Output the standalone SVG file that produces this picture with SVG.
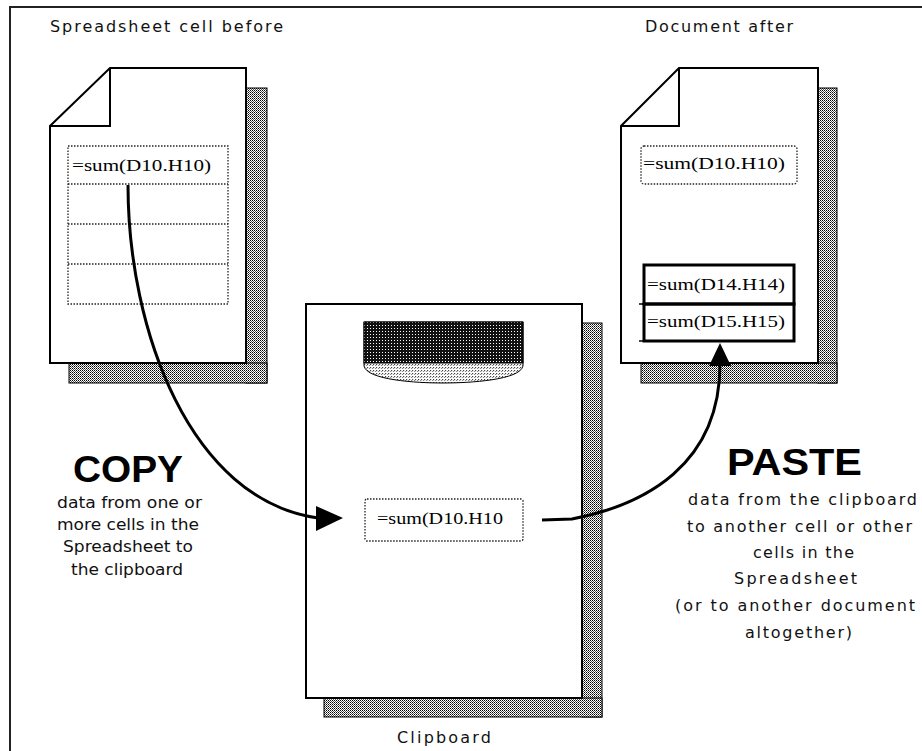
<svg xmlns="http://www.w3.org/2000/svg" width="922" height="751" viewBox="0 0 922 751">
<defs>
<pattern id="dither" width="2" height="2" patternUnits="userSpaceOnUse">
<rect width="2" height="2" fill="#fff"/>
<rect width="1" height="1" fill="#000"/>
<rect x="1" y="1" width="1" height="1" fill="#555"/>
</pattern>
<pattern id="darkdots" width="3" height="3" patternUnits="userSpaceOnUse">
<rect width="3" height="3" fill="#111"/>
<rect x="1" y="1" width="1" height="1" fill="#fff"/>
</pattern>
<pattern id="lightdots" width="3" height="3" patternUnits="userSpaceOnUse">
<rect width="3" height="3" fill="#fff"/>
<rect x="1" y="1" width="1.2" height="1.2" fill="#444"/>
<rect x="0" y="2" width="1" height="1" fill="#888"/>
</pattern>
</defs>
<style>
.page{fill:#fff;stroke:#000;stroke-width:2}
.line{fill:none;stroke:#000;stroke-width:2}
.shadow{fill:url(#dither);stroke:#000;stroke-width:1}
.dot{fill:none;stroke:#222;stroke-width:1.3;stroke-dasharray:1.5 1.5}
.bold{fill:none;stroke:#000;stroke-width:3}
.cell{font-family:"Liberation Serif","Times New Roman",serif;font-size:16px;fill:#000}
.lbl{font-family:"DejaVu Sans","Noto Sans",sans-serif;font-size:15px;fill:#111}
.lbl2{font-family:"DejaVu Sans","Noto Sans",sans-serif;font-size:16px;fill:#111}
.big{font-family:"Liberation Sans",Arial,sans-serif;font-size:37px;font-weight:bold;fill:#000}
.conn{fill:none;stroke:#000;stroke-width:3}
</style>
<rect width="922" height="751" fill="#fff"/>
<path d="M10,751 V7 H922" fill="none" stroke="#222" stroke-width="2"/>

<g id="label-before"><text class="lbl2" x="50" y="32" textLength="233" lengthAdjust="spacing">Spreadsheet cell before</text></g>
<g id="label-after"><text class="lbl2" x="645" y="32" textLength="148" lengthAdjust="spacing">Document after</text></g>

<g id="spreadsheet-doc">
<rect class="shadow" x="246" y="88" width="21" height="295"/>
<rect class="shadow" x="69" y="363" width="198" height="20"/>
<path class="page" d="M110,68 H246 V363 H50 V126 Z"/>
<path class="line" d="M50,126 H110 V68"/>
<rect class="dot" x="68" y="146" width="160" height="158"/>
<line class="dot" x1="68" y1="184" x2="228" y2="184"/>
<line class="dot" x1="68" y1="224" x2="228" y2="224"/>
<line class="dot" x1="68" y1="264" x2="228" y2="264"/>
<text class="cell" x="72" y="171" textLength="139" lengthAdjust="spacingAndGlyphs">=sum(D10.H10)</text>
</g>

<g id="clipboard">
<rect class="shadow" x="582" y="323" width="20" height="394"/>
<rect class="shadow" x="324" y="698" width="278" height="19"/>
<rect class="page" x="306" y="304" width="276" height="394" stroke-width="1.5"/>
<path d="M364,322 H523 V366 C520,380 470,383 443,383 C416,383 367,380 364,366 Z" fill="url(#lightdots)" stroke="#000" stroke-width="1"/>
<rect x="364" y="322" width="159" height="41" fill="url(#darkdots)" stroke="#000" stroke-width="1"/>
<rect class="dot" x="365" y="499" width="158" height="42" rx="2"/>
<text class="cell" x="377" y="524" textLength="126" lengthAdjust="spacingAndGlyphs">=sum(D10.H10</text>
<text class="lbl2" x="397" y="743" textLength="94" lengthAdjust="spacing">Clipboard</text>
</g>

<g id="document-after">
<rect class="shadow" x="818" y="88" width="19" height="295"/>
<rect class="shadow" x="641" y="363" width="196" height="20"/>
<path class="page" d="M679,68 H818 V363 H621 V126 Z"/>
<path class="line" d="M621,126 H679 V68"/>
<rect class="dot" x="641" y="146" width="156" height="38" rx="3"/>
<text class="cell" x="643" y="169" textLength="142" lengthAdjust="spacingAndGlyphs">=sum(D10.H10)</text>
<rect class="bold" x="644" y="265" width="150" height="39"/>
<rect class="bold" x="644" y="304" width="150" height="37"/>
<line x1="639" y1="304" x2="644" y2="304" stroke="#000" stroke-width="1.5"/>
<line x1="639" y1="341" x2="644" y2="341" stroke="#000" stroke-width="1.5"/>
<text class="cell" x="647" y="290" textLength="138" lengthAdjust="spacingAndGlyphs">=sum(D14.H14)</text>
<text class="cell" x="647" y="327" textLength="138" lengthAdjust="spacingAndGlyphs">=sum(D15.H15)</text>
</g>

<g id="copy-label">
<text class="big" x="73" y="482" textLength="110" lengthAdjust="spacingAndGlyphs">COPY</text>
<text class="lbl" x="57" y="508" textLength="145" lengthAdjust="spacingAndGlyphs">data from one or</text>
<text class="lbl" x="57" y="530" textLength="142" lengthAdjust="spacingAndGlyphs">more cells in the</text>
<text class="lbl" x="63" y="552" textLength="130" lengthAdjust="spacingAndGlyphs">Spreadsheet to</text>
<text class="lbl" x="71" y="575" textLength="112" lengthAdjust="spacingAndGlyphs">the clipboard</text>
</g>

<g id="paste-label">
<text class="big" x="727" y="475" textLength="135" lengthAdjust="spacingAndGlyphs">PASTE</text>
<text class="lbl2" x="688" y="505" textLength="229" lengthAdjust="spacing">data from the clipboard</text>
<text class="lbl2" x="687" y="532" textLength="225" lengthAdjust="spacing">to another cell or other</text>
<text class="lbl2" x="753" y="558" textLength="101" lengthAdjust="spacing">cells in the</text>
<text class="lbl2" x="734" y="584" textLength="123" lengthAdjust="spacing">Spreadsheet</text>
<text class="lbl2" x="675" y="611" textLength="240" lengthAdjust="spacing">(or to another document</text>
<text class="lbl2" x="745" y="638" textLength="107" lengthAdjust="spacing">altogether)</text>
</g>

<g id="connectors">
<path class="conn" d="M128,185 C128,330 190,500 318,518"/>
<polygon points="316,506 343,518 316,531" fill="#000"/>
<path class="conn" d="M542,520 L572,519 C645,505 720,465 720,364"/>
<polygon points="709,366 720,343 731,366" fill="#000"/>
</g>
</svg>
